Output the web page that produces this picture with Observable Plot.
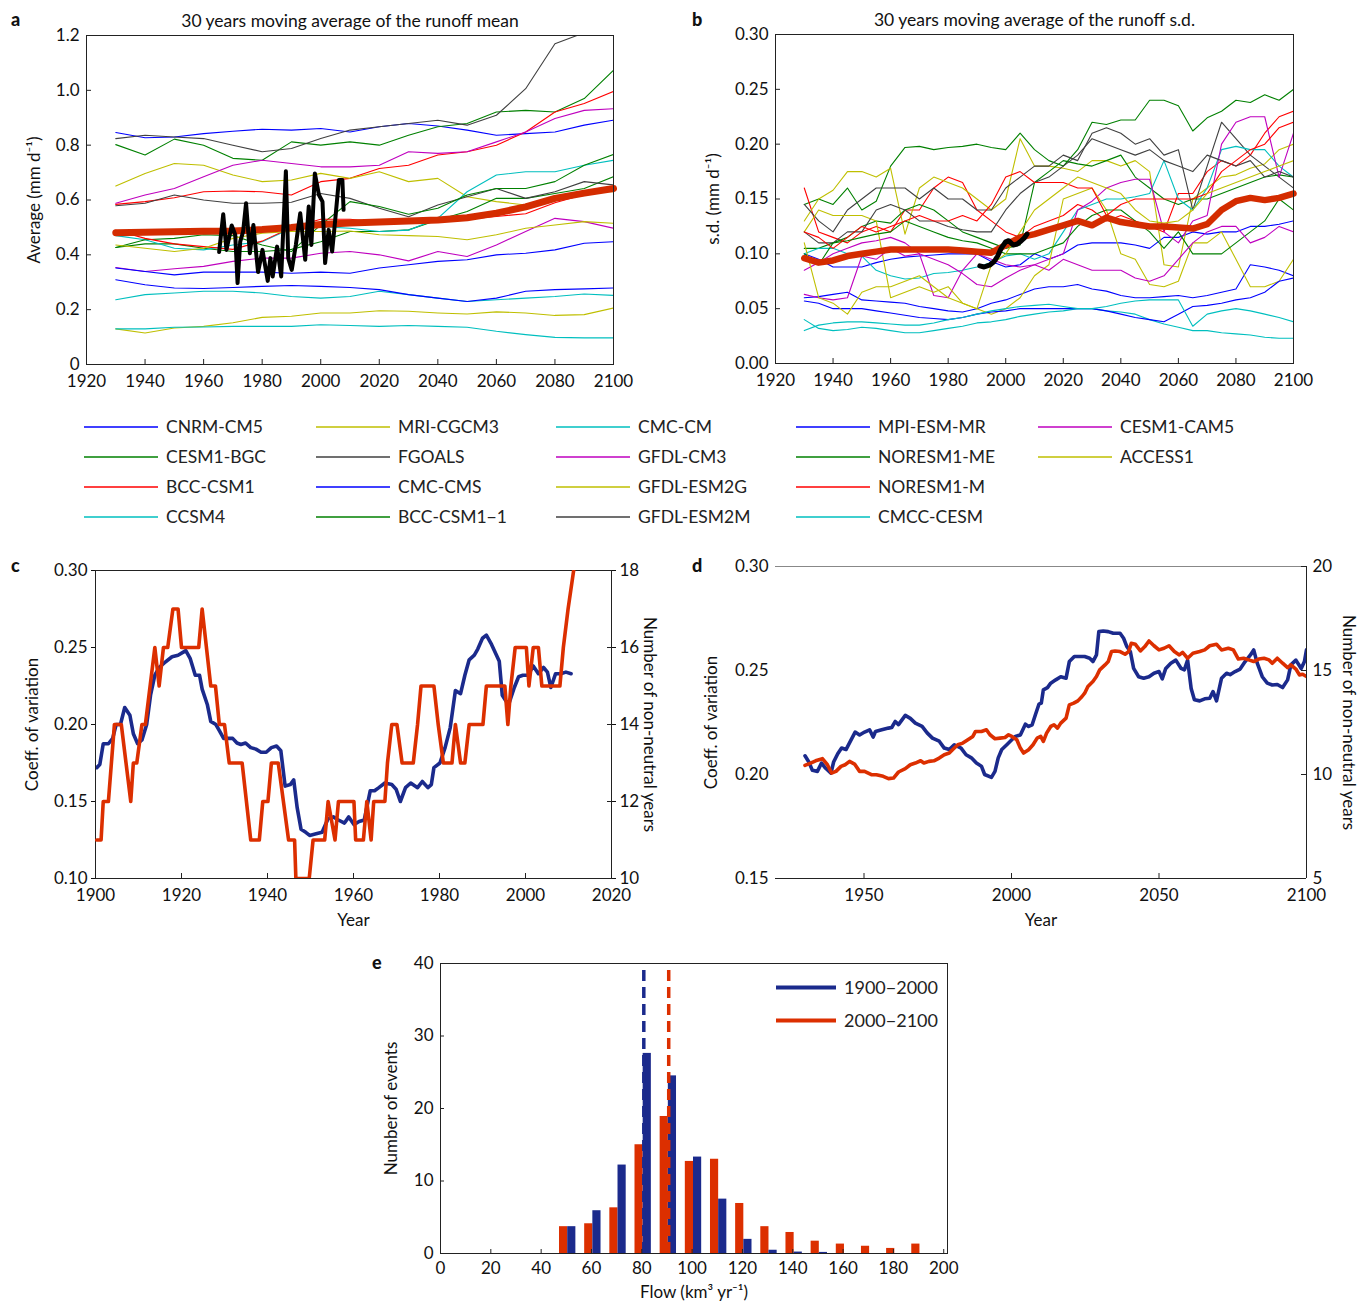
<!DOCTYPE html>
<html><head><meta charset="utf-8">
<script src="https://cdn.jsdelivr.net/npm/d3@7"></script>
<script src="https://cdn.jsdelivr.net/npm/@observablehq/plot@0.6"></script>
<style>
body{margin:0;background:#fff;font-family:Lato,"Open Sans",sans-serif;color:#111;}
#root{position:relative;width:1370px;height:1305px;overflow:hidden;background:#fff;}
.plab{position:absolute;font-weight:900;font-size:18px;line-height:18px;}
.leg{position:absolute;display:flex;align-items:center;font-size:17.5px;white-space:nowrap;color:#222;}
.leg svg{margin-right:8px;}
</style></head><body><div id="root"></div>
<script>
// ---------------- DATA ----------------
const models = ["CNRM-CM5","CESM1-BGC","BCC-CSM1","CCSM4","MRI-CGCM3","FGOALS","CMC-CMS","BCC-CSM1−1","CMC-CM","GFDL-CM3","GFDL-ESM2G","GFDL-ESM2M","MPI-ESM-MR","NORESM1-ME","NORESM1-M","CMCC-CESM","CESM1-CAM5","ACCESS1"];
const modelColors = ["#0000ff","#008000","#ff0000","#00bfbf","#bfbf00","#404040","#0000ff","#008000","#00bfbf","#bf00bf","#bfbf00","#404040","#0000ff","#008000","#ff0000","#00bfbf","#bf00bf","#bfbf00"];

// panel a: 30-yr moving average of runoff mean, decade grid
const yearsA = [1930,1940,1950,1960,1970,1980,1990,2000,2010,2020,2030,2040,2050,2060,2070,2080,2090,2100];
const meanRunoff = [
 [0.846,0.827,0.830,0.842,0.851,0.858,0.855,0.861,0.848,0.867,0.879,0.870,0.855,0.836,0.842,0.848,0.873,0.891], // CNRM-CM5
 [0.802,0.764,0.822,0.800,0.752,0.745,0.812,0.800,0.812,0.800,0.836,0.867,0.879,0.921,0.927,0.921,0.970,1.073], // CESM1-BGC
 [0.584,0.594,0.608,0.630,0.633,0.630,0.618,0.667,0.679,0.715,0.727,0.764,0.776,0.800,0.848,0.921,0.952,0.996], // BCC-CSM1
 [0.236,0.255,0.261,0.267,0.267,0.261,0.248,0.242,0.248,0.267,0.255,0.242,0.230,0.236,0.242,0.248,0.257,0.252], // CCSM4
 [0.651,0.697,0.733,0.727,0.691,0.667,0.673,0.697,0.679,0.703,0.667,0.679,0.612,0.594,0.582,0.606,0.633,0.630], // MRI-CGCM3
 [0.824,0.836,0.830,0.824,0.800,0.776,0.788,0.824,0.855,0.867,0.879,0.891,0.873,0.909,1.006,1.170,1.210,1.250], // FGOALS
 [0.309,0.291,0.279,0.277,0.281,0.285,0.288,0.285,0.281,0.273,0.255,0.242,0.230,0.242,0.267,0.273,0.276,0.279], // CMC-CMS
 [0.427,0.440,0.440,0.424,0.412,0.412,0.420,0.448,0.485,0.485,0.491,0.527,0.558,0.606,0.606,0.624,0.642,0.685], // BCC-CSM1-1
 [0.470,0.455,0.424,0.418,0.436,0.448,0.497,0.503,0.497,0.485,0.490,0.533,0.630,0.691,0.703,0.703,0.727,0.745], // CMC-CM
 [0.354,0.339,0.349,0.358,0.376,0.388,0.388,0.406,0.412,0.400,0.378,0.412,0.394,0.436,0.485,0.533,0.521,0.497], // GFDL-CM3
 [0.130,0.115,0.133,0.139,0.152,0.172,0.176,0.188,0.188,0.196,0.194,0.188,0.184,0.192,0.188,0.179,0.182,0.206], // GFDL-ESM2G
 [0.579,0.588,0.618,0.600,0.588,0.588,0.592,0.624,0.606,0.570,0.539,0.582,0.612,0.642,0.606,0.630,0.667,0.655], // GFDL-ESM2M
 [0.352,0.339,0.327,0.337,0.337,0.337,0.333,0.337,0.333,0.352,0.364,0.376,0.382,0.400,0.406,0.418,0.442,0.448], // MPI-ESM-MR
 [0.427,0.455,0.460,0.473,0.470,0.436,0.412,0.509,0.594,0.576,0.548,0.570,0.618,0.642,0.642,0.667,0.727,0.766], // NORESM1-ME
 [0.490,0.460,0.440,0.430,0.420,0.450,0.500,0.530,0.530,0.520,0.520,0.530,0.530,0.540,0.550,0.590,0.620,0.640], // NORESM1-M
 [0.130,0.130,0.136,0.137,0.139,0.139,0.139,0.145,0.142,0.139,0.142,0.139,0.136,0.121,0.109,0.099,0.097,0.097], // CMCC-CESM
 [0.588,0.618,0.642,0.685,0.727,0.745,0.733,0.721,0.721,0.727,0.776,0.770,0.776,0.812,0.848,0.897,0.927,0.933], // CESM1-CAM5
 [0.436,0.424,0.412,0.424,0.460,0.479,0.485,0.485,0.487,0.473,0.470,0.467,0.455,0.473,0.497,0.509,0.521,0.515]  // ACCESS1
];
const ensembleMeanA = [0.481,0.482,0.484,0.486,0.487,0.492,0.500,0.511,0.516,0.520,0.523,0.527,0.535,0.552,0.575,0.606,0.625,0.642];
const observedMeanA = [[1965.3,0.41],[1966.7,0.548],[1967.8,0.418],[1969.6,0.507],[1970.8,0.473],[1971.6,0.297],[1972.5,0.448],[1973.5,0.485],[1974.5,0.588],[1975.8,0.406],[1977.0,0.509],[1978.6,0.337],[1980.1,0.418],[1981.9,0.305],[1982.8,0.388],[1983.6,0.321],[1985.1,0.43],[1986.5,0.321],[1988.1,0.705],[1988.9,0.388],[1990.1,0.345],[1991.5,0.436],[1993.0,0.552],[1994.7,0.382],[1995.9,0.576],[1996.8,0.436],[1998.0,0.697],[1999.4,0.618],[2000.6,0.594],[2001.5,0.37],[2002.7,0.491],[2003.9,0.412],[2005.0,0.533],[2006.2,0.673],[2007.4,0.673],[2007.8,0.564]];

// panel b: 30-yr moving average of runoff s.d., 5-year grid
const yearsB = [1930,1935,1940,1945,1950,1955,1960,1965,1970,1975,1980,1985,1990,1995,2000,2005,2010,2015,2020,2025,2030,2035,2040,2045,2050,2055,2060,2065,2070,2075,2080,2085,2090,2095,2100];
const sdRunoff = [
 [0.100,0.095,0.088,0.088,0.088,0.092,0.095,0.097,0.098,0.099, 0.100,0.100,0.100,0.093,0.088,0.090,0.100,0.095,0.100,0.108, 0.110,0.110,0.110,0.108,0.105,0.115,0.115,0.120,0.118,0.120, 0.120,0.125,0.125,0.127,0.130],
 [0.145,0.150,0.145,0.160,0.140,0.148,0.180,0.197,0.198,0.195, 0.197,0.198,0.200,0.197,0.195,0.210,0.195,0.185,0.180,0.195, 0.220,0.218,0.222,0.222,0.240,0.240,0.235,0.212,0.224,0.230, 0.240,0.238,0.245,0.240,0.250],
 [0.160,0.120,0.115,0.110,0.120,0.125,0.120,0.140,0.140,0.160, 0.170,0.165,0.140,0.130,0.120,0.115,0.125,0.130,0.135,0.145, 0.140,0.130,0.135,0.130,0.125,0.120,0.155,0.155,0.175,0.185, 0.180,0.190,0.210,0.225,0.230],
 [0.040,0.032,0.030,0.031,0.033,0.032,0.030,0.028,0.028,0.030, 0.032,0.034,0.037,0.038,0.040,0.043,0.045,0.047,0.048,0.050, 0.050,0.048,0.047,0.045,0.040,0.036,0.033,0.030,0.030,0.028, 0.027,0.026,0.024,0.023,0.023],
 [0.130,0.150,0.158,0.175,0.175,0.170,0.178,0.118,0.160,0.170, 0.165,0.160,0.150,0.140,0.150,0.205,0.180,0.180,0.178,0.175, 0.185,0.185,0.180,0.185,0.175,0.090,0.088,0.150,0.160,0.170, 0.172,0.178,0.182,0.195,0.200],
 [0.145,0.130,0.120,0.140,0.150,0.160,0.160,0.160,0.150,0.160, 0.150,0.150,0.140,0.140,0.160,0.170,0.180,0.180,0.190,0.185, 0.210,0.215,0.210,0.200,0.205,0.190,0.195,0.140,0.180,0.220, 0.205,0.190,0.180,0.170,0.160],
 [0.060,0.061,0.063,0.065,0.058,0.057,0.056,0.055,0.052,0.050, 0.048,0.047,0.050,0.055,0.058,0.063,0.068,0.070,0.070,0.072, 0.068,0.066,0.062,0.060,0.060,0.061,0.062,0.060,0.062,0.065, 0.068,0.090,0.088,0.085,0.080],
 [0.105,0.105,0.110,0.115,0.125,0.130,0.128,0.140,0.145,0.140, 0.130,0.120,0.115,0.110,0.105,0.108,0.165,0.175,0.185,0.182, 0.180,0.185,0.190,0.170,0.160,0.150,0.145,0.150,0.150,0.155, 0.160,0.165,0.170,0.172,0.170],
 [0.100,0.105,0.105,0.100,0.098,0.085,0.080,0.077,0.078,0.082, 0.083,0.085,0.088,0.092,0.098,0.100,0.095,0.100,0.120,0.140, 0.145,0.150,0.150,0.152,0.155,0.185,0.150,0.140,0.160,0.195, 0.198,0.195,0.195,0.180,0.170],
 [0.085,0.092,0.100,0.105,0.110,0.112,0.115,0.110,0.100,0.062, 0.060,0.085,0.100,0.095,0.090,0.088,0.090,0.095,0.100,0.140, 0.148,0.160,0.165,0.168,0.168,0.120,0.110,0.130,0.135,0.200, 0.220,0.225,0.225,0.170,0.210],
 [0.120,0.140,0.135,0.135,0.135,0.130,0.060,0.065,0.070,0.065, 0.070,0.055,0.050,0.045,0.050,0.060,0.080,0.090,0.150,0.155, 0.160,0.140,0.100,0.095,0.072,0.070,0.075,0.110,0.110,0.120, 0.095,0.070,0.070,0.075,0.095],
 [0.120,0.110,0.110,0.120,0.120,0.140,0.145,0.140,0.130,0.130, 0.125,0.122,0.120,0.120,0.140,0.155,0.165,0.170,0.180,0.190, 0.205,0.200,0.195,0.190,0.195,0.185,0.180,0.175,0.190,0.185, 0.180,0.185,0.170,0.175,0.170],
 [0.057,0.055,0.050,0.050,0.050,0.048,0.046,0.044,0.042,0.041, 0.040,0.042,0.045,0.047,0.048,0.050,0.050,0.050,0.050,0.050, 0.050,0.048,0.045,0.042,0.040,0.038,0.045,0.052,0.053,0.055, 0.058,0.060,0.065,0.075,0.078],
 [0.100,0.090,0.110,0.112,0.115,0.118,0.120,0.130,0.125,0.120, 0.115,0.112,0.110,0.105,0.100,0.100,0.100,0.105,0.110,0.125, 0.135,0.140,0.140,0.130,0.120,0.105,0.120,0.100,0.100,0.100, 0.110,0.120,0.130,0.150,0.140],
 [0.120,0.115,0.105,0.115,0.125,0.120,0.125,0.130,0.135,0.130, 0.130,0.135,0.130,0.145,0.170,0.175,0.165,0.165,0.165,0.160, 0.160,0.135,0.145,0.150,0.150,0.150,0.150,0.150,0.155,0.175, 0.185,0.195,0.200,0.215,0.220],
 [0.030,0.035,0.037,0.038,0.038,0.037,0.036,0.035,0.035,0.037, 0.040,0.042,0.045,0.048,0.050,0.052,0.053,0.054,0.052,0.050, 0.050,0.052,0.055,0.057,0.058,0.058,0.058,0.034,0.045,0.048, 0.050,0.048,0.045,0.042,0.038],
 [0.063,0.060,0.058,0.060,0.098,0.095,0.105,0.098,0.100,0.095, 0.090,0.082,0.072,0.070,0.078,0.085,0.090,0.085,0.095,0.090, 0.085,0.085,0.085,0.078,0.075,0.080,0.095,0.110,0.120,0.125, 0.125,0.110,0.115,0.125,0.120],
 [0.110,0.060,0.055,0.045,0.065,0.070,0.070,0.075,0.080,0.070, 0.060,0.055,0.050,0.090,0.100,0.120,0.140,0.150,0.160,0.170, 0.165,0.160,0.155,0.140,0.130,0.128,0.130,0.140,0.155,0.160, 0.165,0.170,0.175,0.180,0.185]
];
const ensembleSdB = [0.096,0.092,0.094,0.098,0.100,0.102,0.104,0.104,0.104,0.104, 0.104,0.103,0.102,0.101,0.108,0.115,0.118,0.122,0.126,0.130, 0.126,0.133,0.129,0.127,0.125,0.125,0.124,0.123,0.127,0.140, 0.148,0.151,0.149,0.151,0.155];
const observedSdB = [[1991.0,0.089],[1992.5,0.088],[1994.6,0.090],[1996.0,0.093],[1997.2,0.098],[1998.4,0.105],[2000.0,0.111],[2001.0,0.112],[2002.6,0.108],[2004.0,0.109],[2005.0,0.111],[2006.3,0.114],[2007.4,0.118]];

// panel c: observed
const cvObsC = [[1900.3,0.172],[1901.0,0.174],[1901.8,0.1875],[1903.0,0.1875],[1904.0,0.191],[1904.8,0.200],[1905.8,0.200],[1906.8,0.211],[1908.0,0.206],[1908.8,0.194],[1909.8,0.1875],[1910.8,0.190],[1911.9,0.200],[1912.8,0.219],[1913.8,0.232],[1914.8,0.237],[1916.0,0.240],[1917.8,0.244],[1919.2,0.245],[1921.0,0.248],[1922.0,0.243],[1923.2,0.232],[1924.2,0.232],[1924.8,0.223],[1926.0,0.213],[1926.8,0.202],[1928.0,0.200],[1928.8,0.196],[1929.8,0.191],[1930.8,0.191],[1931.9,0.191],[1932.9,0.188],[1933.8,0.187],[1934.9,0.188],[1936.1,0.185],[1937.3,0.184],[1938.5,0.182],[1939.7,0.182],[1940.9,0.185],[1942.1,0.186],[1943.1,0.183],[1944.1,0.160],[1945.3,0.161],[1946.1,0.164],[1946.9,0.146],[1947.8,0.132],[1948.9,0.130],[1949.8,0.128],[1951.3,0.129],[1952.7,0.130],[1954.1,0.139],[1955.3,0.140],[1956.5,0.138],[1957.9,0.136],[1958.9,0.140],[1960.1,0.135],[1961.3,0.137],[1962.5,0.138],[1963.9,0.157],[1964.9,0.157],[1965.9,0.159],[1967.3,0.162],[1968.9,0.161],[1969.9,0.158],[1970.9,0.150],[1972.1,0.159],[1973.3,0.162],[1974.9,0.159],[1976.0,0.163],[1977.3,0.159],[1978.1,0.161],[1978.7,0.172],[1980.1,0.175],[1981.3,0.185],[1982.5,0.198],[1983.7,0.222],[1984.9,0.220],[1985.9,0.232],[1986.9,0.242],[1988.1,0.245],[1988.9,0.249],[1990.0,0.256],[1990.9,0.258],[1992.1,0.252],[1993.9,0.241],[1994.6,0.219],[1995.5,0.215],[1996.2,0.214],[1997.4,0.224],[1998.4,0.231],[1999.4,0.232],[2000.6,0.232],[2001.8,0.238],[2003.0,0.233],[2004.2,0.237],[2005.1,0.234],[2005.9,0.224],[2007.0,0.233],[2008.2,0.233],[2009.4,0.234],[2010.6,0.233]];
const nonNeutralObsC = [[1900.3,11],[1901.3,11],[1901.8,12],[1903.0,12],[1904.4,14],[1906.0,14],[1908.2,12],[1908.8,13],[1909.6,13],[1910.8,14],[1911.6,14],[1913.8,16],[1914.8,15],[1915.8,16],[1916.8,16],[1918.0,17],[1919.2,17],[1920.0,16],[1924.0,16],[1924.8,17],[1925.8,16],[1926.8,15],[1927.9,15],[1928.8,14],[1930.0,14],[1931.1,13],[1934.1,13],[1936.1,11],[1938.1,11],[1938.9,12],[1940.1,12],[1940.9,13],[1942.5,13],[1943.7,12],[1944.9,11],[1946.3,11],[1946.6,10],[1949.7,10],[1950.6,11],[1953.3,11],[1954.1,12],[1955.7,11],[1956.5,12],[1960.1,12],[1960.5,11],[1962.3,11],[1963.1,12],[1964.1,11],[1964.7,12],[1967.3,12],[1967.9,13],[1968.9,14],[1970.1,14],[1971.3,13],[1973.9,13],[1974.9,14],[1975.7,15],[1978.7,15],[1979.7,14],[1980.9,13],[1982.9,13],[1983.7,14],[1984.9,13],[1985.9,13],[1986.9,14],[1990.1,14],[1990.9,15],[1995.2,15],[1995.9,14],[1996.6,15],[1997.6,16],[2000.2,16],[2000.8,15],[2001.8,16],[2003.0,16],[2003.8,15],[2008.0,15],[2008.8,16],[2009.9,17],[2011.2,18]];

// panel d: models
const cvModelD = [[1930.0,0.209],[1931.3,0.206],[1932.5,0.202],[1934.2,0.2015],[1935.6,0.2055],[1937.0,0.203],[1938.8,0.2007],[1939.7,0.206],[1941.1,0.210],[1942.4,0.2127],[1943.9,0.212],[1945.4,0.216],[1947.0,0.2204],[1948.5,0.219],[1950.2,0.2204],[1951.9,0.2215],[1953.1,0.218],[1953.9,0.2207],[1956.0,0.2215],[1958.3,0.2223],[1959.4,0.2226],[1960.6,0.2255],[1961.7,0.224],[1964.0,0.2284],[1965.7,0.227],[1967.4,0.2247],[1969.7,0.2231],[1971.4,0.220],[1973.2,0.2175],[1975.5,0.216],[1977.2,0.2127],[1978.9,0.212],[1980.6,0.2143],[1982.9,0.2127],[1984.6,0.2095],[1986.4,0.208],[1988.1,0.2055],[1989.8,0.204],[1990.9,0.200],[1993.2,0.1986],[1994.4,0.2015],[1995.5,0.208],[1996.7,0.212],[1998.4,0.2143],[2000.1,0.2167],[2001.3,0.2183],[2003.0,0.219],[2004.7,0.2242],[2005.8,0.2231],[2007.0,0.2239],[2008.1,0.2287],[2009.3,0.2338],[2010.1,0.2343],[2010.8,0.2407],[2012.2,0.2418],[2013.3,0.2439],[2015.0,0.2455],[2016.7,0.247],[2018.5,0.2463],[2019.6,0.2543],[2021.3,0.2567],[2023.1,0.2567],[2024.8,0.2567],[2026.5,0.2559],[2027.6,0.2543],[2028.8,0.2575],[2029.6,0.2687],[2031.1,0.269],[2032.8,0.2687],[2034.5,0.2679],[2036.8,0.2679],[2038.0,0.2655],[2039.1,0.2615],[2040.3,0.259],[2041.4,0.251],[2043.1,0.247],[2044.8,0.2463],[2046.6,0.247],[2048.3,0.2487],[2050.0,0.2495],[2051.1,0.246],[2052.3,0.251],[2054.0,0.2535],[2055.7,0.255],[2057.5,0.251],[2058.6,0.2503],[2059.7,0.255],[2060.9,0.2414],[2062.0,0.2359],[2063.8,0.2354],[2065.5,0.2364],[2067.2,0.2367],[2068.3,0.2399],[2069.5,0.2354],[2071.2,0.2463],[2072.9,0.2487],[2074.1,0.248],[2075.8,0.2495],[2077.5,0.2507],[2079.2,0.2543],[2081.0,0.2575],[2082.1,0.2599],[2083.3,0.2535],[2085.0,0.247],[2086.7,0.2439],[2088.4,0.243],[2090.1,0.2433],[2091.9,0.2418],[2093.6,0.2455],[2094.7,0.2527],[2096.4,0.255],[2098.2,0.251],[2099.3,0.2543],[2100.0,0.2599]];
const nonNeutralModelD = [[1930.0,10.44],[1931.9,10.55],[1933.6,10.66],[1935.9,10.76],[1937.6,10.47],[1939.0,10.07],[1940.5,10.15],[1942.2,10.39],[1943.6,10.47],[1945.1,10.63],[1946.8,10.50],[1948.5,10.15],[1950.2,10.15],[1952.5,9.99],[1954.2,9.99],[1956.5,9.91],[1958.3,9.80],[1960.0,9.83],[1961.7,10.12],[1964.0,10.28],[1965.7,10.47],[1967.4,10.55],[1969.2,10.66],[1970.3,10.55],[1972.0,10.63],[1973.7,10.66],[1975.5,10.79],[1977.2,10.95],[1978.9,11.03],[1980.0,11.19],[1981.8,11.43],[1983.5,11.51],[1985.2,11.67],[1986.9,11.83],[1987.8,12.07],[1989.8,12.07],[1991.5,12.15],[1992.7,11.91],[1994.4,11.72],[1996.1,11.75],[1997.8,11.78],[1999.0,11.91],[2000.1,11.83],[2001.8,11.67],[2003.0,11.27],[2004.1,11.03],[2005.8,11.19],[2007.3,11.43],[2008.7,11.75],[2009.9,11.83],[2010.8,11.59],[2011.9,11.99],[2013.3,12.31],[2014.4,12.39],[2015.6,12.23],[2016.7,12.47],[2018.5,12.71],[2019.6,13.35],[2021.1,13.43],[2022.5,13.54],[2023.9,13.75],[2024.8,13.91],[2025.9,14.23],[2027.6,14.47],[2028.8,14.71],[2029.9,15.03],[2031.7,15.27],[2032.8,15.43],[2033.9,15.91],[2035.1,15.94],[2036.8,15.91],[2038.5,15.78],[2039.7,15.91],[2040.6,16.31],[2042.0,16.26],[2043.7,15.94],[2045.2,16.15],[2046.6,16.42],[2048.3,16.19],[2050.0,15.99],[2051.7,16.07],[2053.4,16.19],[2055.2,15.91],[2056.9,15.75],[2058.0,15.87],[2059.7,15.59],[2061.5,15.83],[2063.8,15.91],[2065.5,15.99],[2067.2,16.19],[2069.5,16.26],[2071.2,15.99],[2073.5,16.07],[2075.2,15.99],[2076.9,15.55],[2078.7,15.59],[2080.4,15.51],[2082.1,15.43],[2083.8,15.55],[2085.6,15.59],[2087.3,15.51],[2088.4,15.35],[2090.1,15.59],[2091.9,15.35],[2093.6,15.14],[2094.7,15.27],[2096.4,15.07],[2097.6,14.79],[2098.7,14.82],[2100.0,14.71]];

// panel e: histogram of flows
const flowBins = [50,60,70,80,90,100,110,120,130,140,150,160,170,180,190];
const events1900 = [3.7,5.9,12.2,27.6,24.5,13.3,7.5,1.95,0.45,0.2,0.15,0,0,0,0];
const events2000 = [3.7,4.1,6.3,15.0,18.9,12.7,13.0,6.9,3.7,2.9,1.7,1.3,1.0,0.7,1.3];
const medianFlow = {p1: 80.8, p2: 90.7};
const periodLabels = ["1900−2000","2000−2100"];

// tick labels
const xTicksAB = [1920,1940,1960,1980,2000,2020,2040,2060,2080,2100];
const yTicksA = [0,0.2,0.4,0.6,0.8,1.0,1.2];
const yTicksB = [0,0.05,0.10,0.15,0.20,0.25,0.30];
const xTicksC = [1900,1920,1940,1960,1980,2000,2020];
const yTicksC = [0.10,0.15,0.20,0.25,0.30];
const y2TicksC = [10,12,14,16,18];
const xTicksD = [1950,2000,2050,2100];
const yTicksD = [0.15,0.20,0.25,0.30];
const y2TicksD = [5,10,15,20];
const xTicksE = [0,20,40,60,80,100,120,140,160,180,200];
const yTicksE = [0,10,20,30,40];

// ---------------- DRAW ----------------
const root = document.getElementById("root");
const FONT = "Lato, 'Open Sans', sans-serif";
const NAVY = "#1b2a8c", ORANGE = "#dc2f00", MEANRED = "#d42c00";
const baseStyle = {background:"transparent", fontFamily: FONT, fontSize:"17px", color:"#111", overflow:"visible"};
function place(el, left, top){ el.style.position="absolute"; el.style.left=left+"px"; el.style.top=top+"px"; root.appendChild(el); return el; }
const f1 = d => d === 0 ? "0" : d.toFixed(1);
const f2 = d => d.toFixed(2);
const pts = arr => arr.map(d => ({year:d[0], value:d[1]}));
const grid = (years, vals) => years.map((y,j)=>({year:y, value:vals[j]}));

// Panel a
{
  const W=690,H=400,ml=86,mr=77,mt=35,mb=36, iw=W-ml-mr, ih=H-mt-mb;
  const p = Plot.plot({
    width:W,height:H,marginLeft:ml,marginRight:mr,marginTop:mt,marginBottom:mb,
    x:{domain:[1920,2100]}, y:{domain:[0,1.2]}, style:baseStyle,
    marks:[
      ...models.map((m,i)=>Plot.line(grid(yearsA, meanRunoff[i]),{x:"year",y:"value",stroke:modelColors[i],strokeWidth:1.1,clip:true})),
      Plot.line(grid(yearsA, ensembleMeanA),{x:"year",y:"value",stroke:MEANRED,strokeWidth:7}),
      Plot.line(pts(observedMeanA),{x:"year",y:"value",stroke:"#000",strokeWidth:4,strokeLinejoin:"round"}),
      Plot.frame({stroke:"#222"}),
      Plot.tickX(xTicksAB,{x:d=>d,insetTop:ih-5,stroke:"#222"}),
      Plot.tickY(yTicksA,{y:d=>d,insetRight:iw-5,stroke:"#222"}),
      Plot.axisX({ticks:xTicksAB,tickSize:0,tickPadding:10,tickFormat:d=>String(d),label:null}),
      Plot.axisY({ticks:yTicksA,tickSize:0,tickPadding:7,tickFormat:f1,label:"Average (mm d⁻¹)",labelAnchor:"center",labelOffset:59,labelArrow:"none"}),
      Plot.text(["30 years moving average of the runoff mean"],{frameAnchor:"top",lineAnchor:"middle",dy:-14,fontSize:17.5,text:d=>d})
    ]
  });
  place(p,0,0);
}
// Panel b
{
  const W=680,H=400,ml=85,mr=77,mt=34,mb=37, iw=W-ml-mr, ih=H-mt-mb;
  const p = Plot.plot({
    width:W,height:H,marginLeft:ml,marginRight:mr,marginTop:mt,marginBottom:mb,
    x:{domain:[1920,2100]}, y:{domain:[0,0.3]}, style:baseStyle,
    marks:[
      ...models.map((m,i)=>Plot.line(grid(yearsB, sdRunoff[i]),{x:"year",y:"value",stroke:modelColors[i],strokeWidth:1.1,clip:true})),
      Plot.line(grid(yearsB, ensembleSdB),{x:"year",y:"value",stroke:MEANRED,strokeWidth:6.5}),
      Plot.line(pts(observedSdB),{x:"year",y:"value",stroke:"#000",strokeWidth:5,strokeLinejoin:"round"}),
      Plot.frame({stroke:"#222"}),
      Plot.tickX(xTicksAB,{x:d=>d,insetTop:ih-5,stroke:"#222"}),
      Plot.tickY(yTicksB,{y:d=>d,insetRight:iw-5,stroke:"#222"}),
      Plot.axisX({ticks:xTicksAB,tickSize:0,tickPadding:10,tickFormat:d=>String(d),label:null}),
      Plot.axisY({ticks:yTicksB,tickSize:0,tickPadding:7,tickFormat:f2,label:"s.d. (mm d⁻¹)",labelAnchor:"center",labelOffset:69,labelArrow:"none"}),
      Plot.text(["30 years moving average of the runoff s.d."],{frameAnchor:"top",lineAnchor:"middle",dy:-14,fontSize:17.5,text:d=>d})
    ]
  });
  place(p,690,0);
}
// Legend
models.forEach((m,i)=>{
  const colX=[84,316,556,796,1038], rowY=[427,457,487,517];
  const d = document.createElement("div"); d.className="leg";
  d.innerHTML = `<svg width="74" height="4"><line x1="0" y1="2" x2="74" y2="2" stroke="${modelColors[i]}" stroke-width="1.4"/></svg><span>${m}</span>`;
  place(d, colX[Math.floor(i/4)], rowY[i%4]-11);
});
// Panel c
{
  const W=690,H=400,ml=95,mr=79,mt=30,mb=62, iw=W-ml-mr, ih=H-mt-mb;
  const p = Plot.plot({
    width:W,height:H,marginLeft:ml,marginRight:mr,marginTop:mt,marginBottom:mb,
    x:{domain:[1900,2020]}, y:{domain:[0.10,0.30]}, style:baseStyle,
    marks:[
      Plot.line(pts(cvObsC),{x:"year",y:"value",stroke:NAVY,strokeWidth:3.6,clip:true}),
      Plot.frame({stroke:"#222"}),
      Plot.tickX(xTicksC,{x:d=>d,insetTop:ih-5,stroke:"#222"}),
      Plot.axisX({ticks:xTicksC,tickSize:0,tickPadding:10,tickFormat:d=>String(d),label:"Year",labelAnchor:"center",labelOffset:47,labelArrow:"none"}),
      Plot.axisY({ticks:yTicksC,tickSize:4,tickPadding:4,tickFormat:f2,label:"Coeff. of variation",labelAnchor:"center",labelOffset:70,labelArrow:"none"})
    ]
  });
  place(p,0,540);
  const p2 = Plot.plot({
    width:W,height:H,marginLeft:ml,marginRight:mr,marginTop:mt,marginBottom:mb,
    x:{domain:[1900,2020],axis:null}, y:{domain:[10,18]}, style:baseStyle,
    marks:[
      Plot.line(pts(nonNeutralObsC),{x:"year",y:"value",stroke:ORANGE,strokeWidth:3.6,clip:true}),
      Plot.axisY({anchor:"right",ticks:y2TicksC,tickSize:4,tickPadding:4,tickFormat:d=>String(d),label:null}),
      Plot.tickY(y2TicksC,{y:d=>d,insetLeft:iw-4,stroke:"#222"}),
      Plot.text(["Number of non-neutral years"],{frameAnchor:"right",textAnchor:"middle",rotate:90,dx:38,text:d=>d})
    ]
  });
  place(p2,0,540);
}
// Panel d
{
  const W=680,H=400,ml=85,mr=64,mt=26,mb=62, iw=W-ml-mr, ih=H-mt-mb;
  const p = Plot.plot({
    width:W,height:H,marginLeft:ml,marginRight:mr,marginTop:mt,marginBottom:mb,
    x:{domain:[1920,2100]}, y:{domain:[0.15,0.30]}, style:baseStyle,
    marks:[
      Plot.line(pts(cvModelD),{x:"year",y:"value",stroke:NAVY,strokeWidth:3.6,clip:true}),
      Plot.ruleY([0.30],{stroke:"#888"}),
      Plot.ruleY([0.15],{stroke:"#222"}),
      Plot.ruleX([2100],{stroke:"#222"}),
      Plot.tickX(xTicksD,{x:d=>d,insetTop:ih-5,stroke:"#222"}),
      Plot.axisX({ticks:xTicksD,tickSize:0,tickPadding:10,tickFormat:d=>String(d),label:"Year",labelAnchor:"center",labelOffset:47,labelArrow:"none"}),
      Plot.axisY({ticks:yTicksD,tickSize:0,tickPadding:7,tickFormat:f2,label:"Coeff. of variation",labelAnchor:"center",labelOffset:71,labelArrow:"none"})
    ]
  });
  place(p,690,540);
  const p2 = Plot.plot({
    width:W,height:H,marginLeft:ml,marginRight:mr,marginTop:mt,marginBottom:mb,
    x:{domain:[1920,2100],axis:null}, y:{domain:[5,20]}, style:baseStyle,
    marks:[
      Plot.line(pts(nonNeutralModelD),{x:"year",y:"value",stroke:ORANGE,strokeWidth:3.6,clip:true}),
      Plot.tickY(y2TicksD,{y:d=>d,insetLeft:iw-5,stroke:"#222"}),
      Plot.axisY({anchor:"right",ticks:y2TicksD,tickSize:0,tickPadding:6,tickFormat:d=>String(d),label:null}),
      Plot.text(["Number of non-neutral years"],{frameAnchor:"right",textAnchor:"middle",rotate:90,dx:42,text:d=>d})
    ]
  });
  place(p2,690,540);
}
// Panel e
{
  const W=700,H=375,ml=110,mr=83,mt=33,mb=52, iw=W-ml-mr, ih=H-mt-mb;
  const barW = 3.25, shift = 0.55;
  const h1 = flowBins.map((b,i)=>({bin:b, n:events1900[i]}));
  const h2 = flowBins.map((b,i)=>({bin:b, n:events2000[i]}));
  const p = Plot.plot({
    width:W,height:H,marginLeft:ml,marginRight:mr,marginTop:mt,marginBottom:mb,
    x:{domain:[0,201.5]}, y:{domain:[0,40]}, style:baseStyle,
    marks:[
      Plot.rectY(h2,{x1:d=>d.bin+shift-barW,x2:d=>d.bin+shift,y1:0,y2:"n",fill:ORANGE}),
      Plot.rectY(h1,{x1:d=>d.bin+shift,x2:d=>d.bin+shift+barW,y1:0,y2:"n",fill:NAVY}),
      Plot.ruleX([medianFlow.p1],{stroke:NAVY,strokeWidth:3.5,strokeDasharray:"11,6",y1:0,y2:40}),
      Plot.ruleX([medianFlow.p2],{stroke:ORANGE,strokeWidth:3.5,strokeDasharray:"11,6",y1:0,y2:40}),
      Plot.frame({stroke:"#222"}),
      Plot.tickX(xTicksE,{x:d=>d,insetTop:ih-4,stroke:"#222"}),
      Plot.tickY(yTicksE,{y:d=>d,insetRight:iw-4,stroke:"#222"}),
      Plot.axisX({ticks:xTicksE,tickSize:0,tickPadding:8,tickFormat:d=>String(d),label:"Flow (km³ yr⁻¹)",labelAnchor:"center",labelOffset:44,labelArrow:"none"}),
      Plot.axisY({ticks:yTicksE,tickSize:0,tickPadding:7,tickFormat:d=>String(d),label:"Number of events",labelAnchor:"center",labelOffset:56,labelArrow:"none"})
    ]
  });
  place(p,330,930);
  [[NAVY,periodLabels[0],988],[ORANGE,periodLabels[1],1021]].forEach(([c,t,y])=>{
    const d=document.createElement("div"); d.className="leg"; d.style.fontSize="18px";
    d.innerHTML=`<svg width="60" height="5"><line x1="0" y1="2.5" x2="60" y2="2.5" stroke="${c}" stroke-width="4"/></svg><span>${t}</span>`;
    place(d,776,y-12);
  });
}
// panel letters
[["a",11,10],["b",692,10],["c",11,556],["d",692,556],["e",372,953]].forEach(([t,x,y])=>{
  const d=document.createElement("div"); d.className="plab"; d.textContent=t; place(d,x,y);
});
</script></body></html>
